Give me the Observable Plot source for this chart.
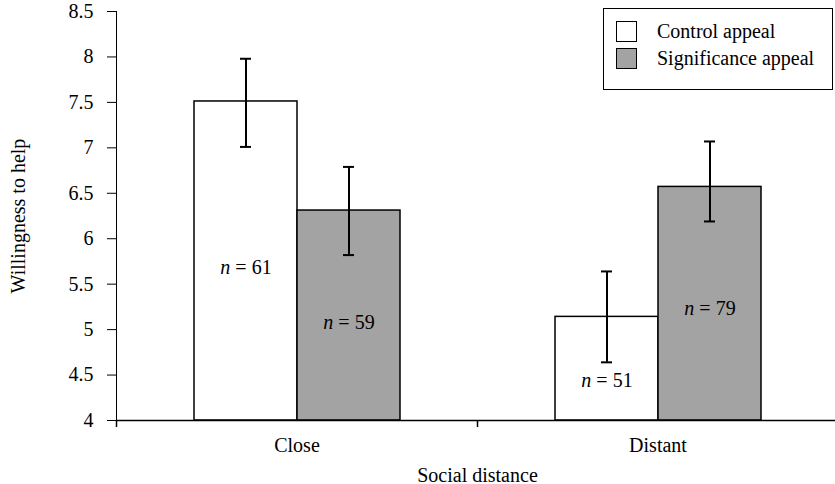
<!DOCTYPE html>
<html>
<head>
<meta charset="utf-8">
<script src="https://cdn.jsdelivr.net/npm/d3@7"></script>
<script src="https://cdn.jsdelivr.net/npm/@observablehq/plot@0.6"></script>
<style>
  html, body { margin: 0; padding: 0; background: #fff; overflow: hidden; }
  #wrap { position: relative; width: 835px; height: 484px; }
  #wrap svg, #wrap svg text { font-family: "Liberation Serif", "DejaVu Serif", serif; }
  #legend {
    position: absolute; left: 603px; top: 8px; width: 228px; height: 80px;
    border: 1.5px solid #000; background: #fff;
    font-family: "Liberation Serif", "DejaVu Serif", serif; font-size: 20px; color: #000;
  }
  .item { position: absolute; left: 12px; height: 21px; display: flex; align-items: center; }
  .sw { width: 19px; height: 19px; border: 1.5px solid #000; box-sizing: content-box; margin-right: 20px; }
</style>
</head>
<body>
<div id="wrap"></div>
<script>
// ---- data ----
const categories = ["Close", "Distant"];
const series = ["Control appeal", "Significance appeal"];
const controlMean = [7.51, 5.14];
const controlLow = [7.01, 4.64];
const controlHigh = [7.98, 5.64];
const controlN = [61, 51];
const controlLabelY = [5.68, 4.44];
const signifMean = [6.31, 6.57];
const signifLow = [5.82, 6.19];
const signifHigh = [6.79, 7.07];
const signifN = [59, 79];
const signifLabelY = [5.08, 5.23];
const yTicks = [4, 4.5, 5, 5.5, 6, 6.5, 7, 7.5, 8, 8.5];
const yDomain = [4, 8.5];
const seriesColors = ["#ffffff", "#a3a3a3"];

const rows = [];
categories.forEach((c, i) => {
  rows.push({cat: c, series: series[0], mean: controlMean[i], lo: controlLow[i], hi: controlHigh[i], n: controlN[i], ly: controlLabelY[i]});
  rows.push({cat: c, series: series[1], mean: signifMean[i], lo: signifLow[i], hi: signifHigh[i], n: signifN[i], ly: signifLabelY[i]});
});

const W = 835, H = 484, mL = 116, mR = -3;
const facetW = (W - mL - mR) / categories.length;
const SERIF = "'Liberation Serif', 'DejaVu Serif', serif";

const chart = Plot.plot({
  width: W, height: H,
  marginLeft: mL, marginRight: mR, marginTop: 11, marginBottom: 64,
  style: {fontFamily: SERIF, fontSize: "20px", color: "#000", background: "#fff", overflow: "visible"},
  fx: {domain: categories, padding: 0},
  x: {domain: series, paddingInner: 0, paddingOuter: 0.7356, axis: null},
  y: {domain: yDomain, ticks: yTicks, tickFormat: d => String(d), tickSize: 9, tickPadding: 14,
      label: "Willingness to help", labelAnchor: "center", labelArrow: "none", labelOffset: 106, line: true},
  color: {domain: series, range: seriesColors},
  marks: [
    Plot.barY(rows, {fx: "cat", x: "series", y1: yDomain[0], y2: "mean", fill: "series", stroke: "#000", strokeWidth: 1.5}),
    Plot.ruleX(rows, {fx: "cat", x: "series", y1: "lo", y2: "hi", stroke: "#000", strokeWidth: 2}),
    Plot.tickY(rows, {fx: "cat", x: "series", y: "lo", insetLeft: 46, insetRight: 46, stroke: "#000", strokeWidth: 2}),
    Plot.tickY(rows, {fx: "cat", x: "series", y: "hi", insetLeft: 46, insetRight: 46, stroke: "#000", strokeWidth: 2}),
    Plot.text(rows, {fx: "cat", x: "series", y: "ly", text: d => "n = " + d.n, fill: "#000", fontSize: 20}),
    Plot.ruleY([yDomain[0]], {stroke: "#000", strokeWidth: 1.5}),
    Plot.axisFx({anchor: "bottom", tickSize: 0, tickPadding: 17, label: "Social distance", labelAnchor: "center", labelArrow: "none", labelOffset: 61}),
    Plot.axisFx({anchor: "bottom", tickSize: 7, fill: "none", label: null, dx: -facetW / 2, stroke: "#000", strokeWidth: 1.5})
  ]
});

document.getElementById("wrap").appendChild(chart);

// serif font on SVG text; italic "n" in the sample-size labels
d3.select(chart).selectAll("text").attr("font-family", SERIF).each(function() {
  const t = this.textContent;
  if (/^n = \d+$/.test(t)) {
    const el = d3.select(this);
    el.text(null);
    el.append("tspan").attr("font-style", "italic").text("n");
    el.append("tspan").text(t.slice(1));
  }
});

// legend
const legend = d3.select("#wrap").append("div").attr("id", "legend");
series.forEach((s, i) => {
  const it = legend.append("div").attr("class", "item").style("top", (12 + i * 26.5) + "px");
  it.append("div").attr("class", "sw").style("background", seriesColors[i]);
  it.append("span").text(s);
});
</script>
</body>
</html>
